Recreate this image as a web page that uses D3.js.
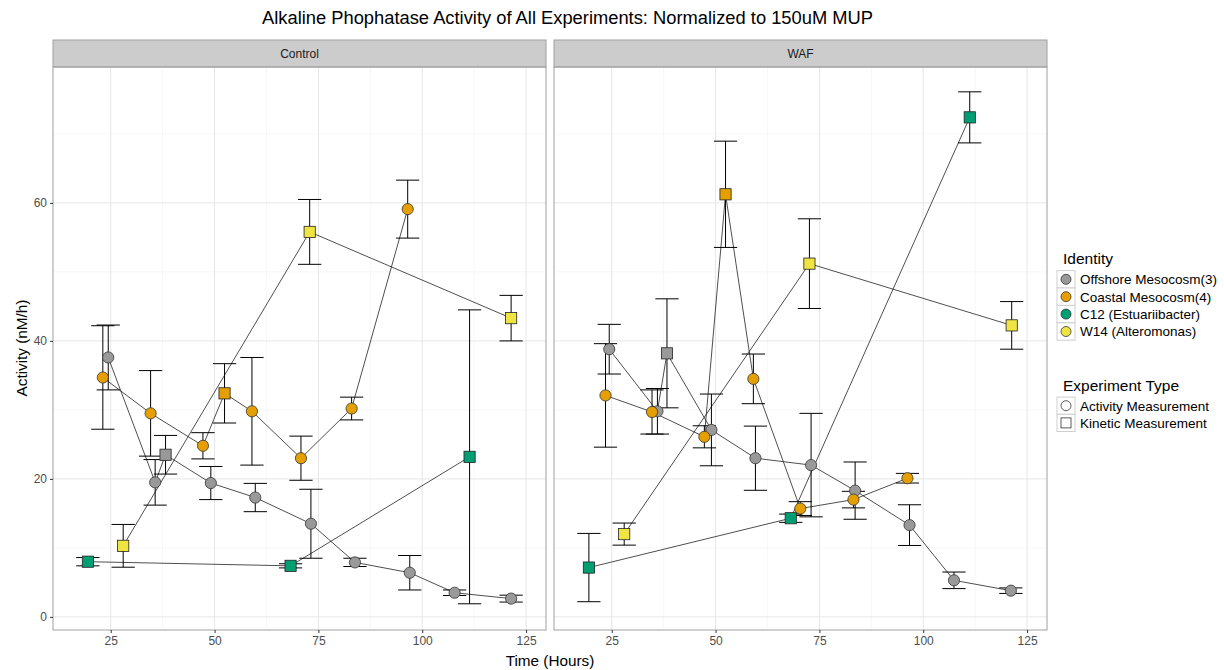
<!DOCTYPE html>
<html>
<head>
<meta charset="utf-8">
<script src="https://cdn.jsdelivr.net/npm/d3@7"></script>
<style>
  body { margin: 0; background: #fff; }
  svg { font-family: "Liberation Sans", Arial, sans-serif; }
</style>
</head>
<body>
<svg id="chart" width="1224" height="670"></svg>
<script>
// ---------------- DATA ----------------
const title = "Alkaline Phophatase Activity of All Experiments: Normalized to 150uM MUP";
const panels = ["Control", "WAF"];
const identities = ["Offshore Mesocosm(3)", "Coastal Mesocosm(4)", "C12 (Estuariibacter)", "W14 (Alteromonas)"];
const expTypes = ["Activity Measurement", "Kinetic Measurement"];
const xTicks = [25, 50, 75, 100, 125];
const yTicks = [0, 20, 40, 60];
const palette = ["#999999", "#E69F00", "#009E73", "#F0E442"];

// each row: [time (h), activity (nM/h), error, type: "A" activity / "K" kinetic]
const ctrlOffshore = [[24.4,37.6,4.7,"A"],[35.7,19.5,3.3,"A"],[38.2,23.5,2.8,"K"],[49.1,19.4,2.4,"A"],[59.8,17.3,2.05,"A"],[73.2,13.5,5.0,"A"],[83.8,7.9,0.6,"A"],[97.0,6.4,2.5,"A"],[107.8,3.5,0.4,"A"],[121.4,2.65,0.5,"A"]];
const ctrlCoastal  = [[23.1,34.7,7.5,"A"],[34.6,29.5,6.2,"A"],[47.2,24.8,1.9,"A"],[52.4,32.4,4.3,"K"],[59.0,29.8,7.8,"A"],[70.8,23.0,3.2,"A"],[83.0,30.2,1.65,"A"],[96.5,59.1,4.2,"A"]];
const ctrlC12      = [[19.5,8.0,0.6,"K"],[68.3,7.4,0.3,"K"],[111.4,23.2,21.3,"K"]];
const ctrlW14      = [[28.0,10.3,3.1,"K"],[72.9,55.8,4.7,"K"],[121.4,43.3,3.3,"K"]];
const wafOffshore  = [[24.4,38.8,3.6,"A"],[36.0,29.8,3.3,"A"],[38.3,38.2,7.9,"K"],[49.0,27.1,5.2,"A"],[59.6,23.0,4.65,"A"],[73.0,22.0,7.5,"A"],[83.6,18.3,4.15,"A"],[96.7,13.3,2.95,"A"],[107.4,5.3,1.2,"A"],[121.1,3.8,0.4,"A"]];
const wafCoastal   = [[23.5,32.1,7.5,"A"],[34.7,29.7,3.2,"A"],[47.3,26.1,1.6,"A"],[52.4,61.25,7.7,"K"],[59.1,34.5,3.6,"A"],[70.4,15.7,1.0,"A"],[83.2,17.0,1.2,"A"],[96.2,20.1,0.7,"A"]];
const wafC12       = [[19.5,7.15,4.95,"K"],[68.1,14.3,0.6,"K"],[111.2,72.4,3.7,"K"]];
const wafW14       = [[28.0,12.0,1.6,"K"],[72.6,51.2,6.5,"K"],[121.3,42.25,3.45,"K"]];

const panelSeries = [
  [ctrlOffshore, ctrlCoastal, ctrlC12, ctrlW14],
  [wafOffshore, wafCoastal, wafC12, wafW14]
];
const errHalfWidth = 2.8; // hours

// ---------------- LAYOUT ----------------
const svg = d3.select("#chart");
const panelX = [[53, 546], [554, 1047]];
const plotTop = 67, plotBottom = 630, stripTop = 40;
const xDomain = [11.1, 129.8];
const y = d3.scaleLinear().domain([-1.9, 79.7]).range([plotBottom, plotTop]);

svg.append("rect").attr("width", 1224).attr("height", 670).attr("fill", "#fff");

svg.append("text").attr("x", 567.5).attr("y", 24).attr("text-anchor", "middle")
  .attr("font-size", 17.5).attr("fill", "#000")
  .attr("textLength", 611).attr("lengthAdjust", "spacingAndGlyphs").text(title);

panels.forEach((pname, pi) => {
  const [x0, x1] = panelX[pi];
  const x = d3.scaleLinear().domain(xDomain).range([x0, x1]);
  const g = svg.append("g");

  // minor grid
  const xMinor = [37.5, 62.5, 87.5, 112.5];
  const yMinor = [10, 30, 50, 70];
  g.selectAll(".xm").data(xMinor).join("line")
    .attr("x1", d => x(d)).attr("x2", d => x(d)).attr("y1", plotTop).attr("y2", plotBottom)
    .attr("stroke", "#f2f2f2").attr("stroke-width", 0.6);
  g.selectAll(".ym").data(yMinor).join("line")
    .attr("x1", x0).attr("x2", x1).attr("y1", d => y(d)).attr("y2", d => y(d))
    .attr("stroke", "#f2f2f2").attr("stroke-width", 0.6);
  // major grid
  g.selectAll(".xM").data(xTicks).join("line")
    .attr("x1", d => x(d)).attr("x2", d => x(d)).attr("y1", plotTop).attr("y2", plotBottom)
    .attr("stroke", "#e6e6e6").attr("stroke-width", 1);
  g.selectAll(".yM").data(yTicks).join("line")
    .attr("x1", x0).attr("x2", x1).attr("y1", d => y(d)).attr("y2", d => y(d))
    .attr("stroke", "#e6e6e6").attr("stroke-width", 1);

  // strip
  g.append("rect").attr("x", x0).attr("y", stripTop).attr("width", x1 - x0).attr("height", plotTop - stripTop)
    .attr("fill", "#cccccc").attr("stroke", "#a0a0a0").attr("stroke-width", 1);
  g.append("text").attr("x", (x0 + x1) / 2).attr("y", plotTop - 9).attr("text-anchor", "middle")
    .attr("font-size", 12).attr("fill", "#1a1a1a").text(pname);

  const series = panelSeries[pi];
  const line = d3.line().x(d => x(d[0])).y(d => y(d[1]));
  // lines
  series.forEach((s) => {
    const sorted = s.slice().sort((a, b) => a[0] - b[0]);
    g.append("path").attr("d", line(sorted)).attr("fill", "none")
      .attr("stroke", "#222").attr("stroke-width", 0.8);
  });
  // error bars
  series.forEach((s) => {
    s.forEach(d => {
      const cx = x(d[0]);
      const hw = x(d[0] + errHalfWidth) - cx;
      const yt = y(d[1] + d[2]), yb = y(d[1] - d[2]);
      g.append("line").attr("x1", cx).attr("x2", cx).attr("y1", yt).attr("y2", yb)
        .attr("stroke", "#000").attr("stroke-width", 1);
      g.append("line").attr("x1", cx - hw).attr("x2", cx + hw).attr("y1", yt).attr("y2", yt)
        .attr("stroke", "#000").attr("stroke-width", 1);
      g.append("line").attr("x1", cx - hw).attr("x2", cx + hw).attr("y1", yb).attr("y2", yb)
        .attr("stroke", "#000").attr("stroke-width", 1);
    });
  });
  // points
  series.forEach((s, si) => {
    s.forEach(d => {
      const cx = x(d[0]), cy = y(d[1]);
      if (d[3] === "A") {
        g.append("circle").attr("cx", cx).attr("cy", cy).attr("r", 5.6)
          .attr("fill", palette[si]).attr("stroke", "#333").attr("stroke-width", 0.8);
      } else {
        g.append("rect").attr("x", cx - 5.6).attr("y", cy - 5.6).attr("width", 11.2).attr("height", 11.2)
          .attr("fill", palette[si]).attr("stroke", "#222").attr("stroke-width", 0.8);
      }
    });
  });

  // panel border
  g.append("rect").attr("x", x0).attr("y", plotTop).attr("width", x1 - x0).attr("height", plotBottom - plotTop)
    .attr("fill", "none").attr("stroke", "#a0a0a0").attr("stroke-width", 1);

  // x axis
  const xa = g.append("g").attr("transform", `translate(0,${plotBottom})`)
    .call(d3.axisBottom(x).tickValues(xTicks).tickSize(3).tickPadding(3));
  xa.select(".domain").remove();
  xa.selectAll("line").attr("stroke", "#333");
  xa.selectAll("text").attr("font-size", 12).attr("fill", "#4d4d4d").attr("font-family", "Liberation Sans, Arial, sans-serif");

  if (pi === 0) {
    const ya = g.append("g").attr("transform", `translate(${x0},0)`)
      .call(d3.axisLeft(y).tickValues(yTicks).tickSize(3).tickPadding(3));
    ya.select(".domain").remove();
    ya.selectAll("line").attr("stroke", "#333");
    ya.selectAll("text").attr("font-size", 12).attr("fill", "#4d4d4d").attr("font-family", "Liberation Sans, Arial, sans-serif");
  }
});

// axis titles
svg.append("text").attr("x", 550).attr("y", 666).attr("text-anchor", "middle")
  .attr("font-size", 15.3).attr("fill", "#000").text("Time (Hours)");
svg.append("text").attr("transform", "translate(27,348) rotate(-90)").attr("text-anchor", "middle")
  .attr("font-size", 15.3).attr("fill", "#000").text("Activity (nM/h)");

// legend
const lg = svg.append("g");
lg.append("text").attr("x", 1063).attr("y", 264).attr("font-size", 15.5).attr("fill", "#000").text("Identity");
identities.forEach((name, i) => {
  const cy = 279.3 + i * 17.4;
  lg.append("rect").attr("x", 1057).attr("y", cy - 8.7).attr("width", 18).attr("height", 17.4)
    .attr("fill", "#fff").attr("stroke", "#cfcfcf").attr("stroke-width", 1);
  lg.append("circle").attr("cx", 1066).attr("cy", cy).attr("r", 5)
    .attr("fill", palette[i]).attr("stroke", "#333").attr("stroke-width", 0.8);
  lg.append("text").attr("x", 1080).attr("y", cy + 4.8).attr("font-size", 13.5).attr("fill", "#000").text(name);
});
lg.append("text").attr("x", 1063).attr("y", 391).attr("font-size", 15.5).attr("fill", "#000").text("Experiment Type");
expTypes.forEach((name, i) => {
  const cy = 405.7 + i * 17.2;
  lg.append("rect").attr("x", 1057).attr("y", cy - 8.6).attr("width", 18).attr("height", 17.2)
    .attr("fill", "#fff").attr("stroke", "#cfcfcf").attr("stroke-width", 1);
  if (i === 0) {
    lg.append("circle").attr("cx", 1066).attr("cy", cy).attr("r", 5)
      .attr("fill", "#fff").attr("stroke", "#333").attr("stroke-width", 0.8);
  } else {
    lg.append("rect").attr("x", 1061).attr("y", cy - 5).attr("width", 10).attr("height", 10)
      .attr("fill", "#fff").attr("stroke", "#333").attr("stroke-width", 0.8);
  }
  lg.append("text").attr("x", 1080).attr("y", cy + 4.8).attr("font-size", 13.5).attr("fill", "#000").text(name);
});
</script>
</body>
</html>
